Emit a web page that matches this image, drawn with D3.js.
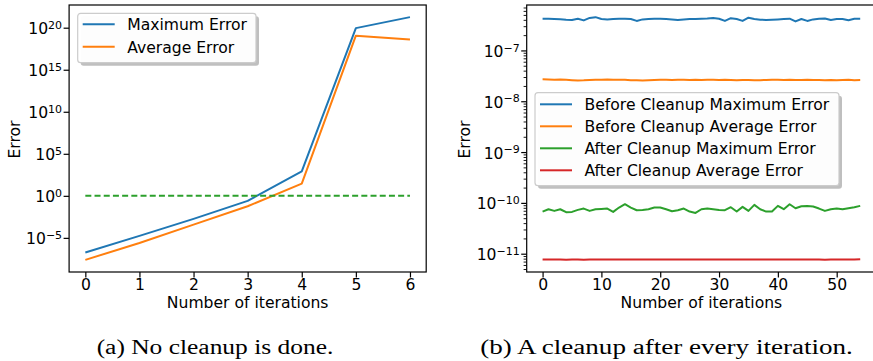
<!DOCTYPE html>
<html>
<head>
<meta charset="utf-8">
<script src="https://cdn.jsdelivr.net/npm/d3@7"></script>
<style>
body { margin: 0; background: #fff; }
svg { display: block; }
</style>
</head>
<body>
<svg id="fig" width="873" height="361"></svg>
<script>
// (a) no cleanup
const itersA = [0, 1, 2, 3, 4, 5, 6]
const maxErrA = [1.78e-7, 1.74e-5, 1.82e-3, 0.251, 794, 8.9e19, 1.82e21]
const avgErrA = [2.4e-8, 2.5e-6, 3.8e-4, 0.0575, 28.8, 1.12e19, 4.0e18]
const thresholdA = [1, 1, 1, 1, 1, 1, 1]
const xTicksA = [0, 1, 2, 3, 4, 5, 6]
const yExpA = [-5, 0, 5, 10, 15, 20]

// (b) cleanup after every iteration
const itersB = d3.range(0, 55)
const beforeMax = [4.21e-7, 4.21e-7, 4.17e-7, 4.11e-7, 4.02e-7, 3.98e-7, 4.21e-7, 3.90e-7, 4.36e-7, 4.52e-7,
  4.15e-7, 4.08e-7, 4.15e-7, 4.21e-7, 4.21e-7, 4.15e-7, 3.81e-7, 4.08e-7, 4.15e-7, 4.21e-7,
  4.21e-7, 4.15e-7, 4.08e-7, 3.98e-7, 4.08e-7, 4.15e-7, 4.15e-7, 4.21e-7, 4.26e-7, 4.36e-7,
  4.21e-7, 3.81e-7, 4.32e-7, 4.15e-7, 3.81e-7, 4.40e-7, 4.15e-7, 4.02e-7, 3.98e-7, 4.02e-7,
  4.08e-7, 4.15e-7, 4.21e-7, 3.72e-7, 4.15e-7, 3.81e-7, 4.08e-7, 4.21e-7, 4.26e-7, 3.97e-7,
  4.15e-7, 4.15e-7, 3.93e-7, 4.21e-7, 4.21e-7]
const beforeAvg = [2.70e-8, 2.68e-8, 2.66e-8, 2.68e-8, 2.64e-8, 2.60e-8, 2.57e-8, 2.58e-8, 2.62e-8, 2.64e-8,
  2.66e-8, 2.68e-8, 2.64e-8, 2.66e-8, 2.64e-8, 2.60e-8, 2.58e-8, 2.57e-8, 2.60e-8, 2.62e-8,
  2.64e-8, 2.64e-8, 2.62e-8, 2.64e-8, 2.64e-8, 2.62e-8, 2.64e-8, 2.62e-8, 2.64e-8, 2.64e-8,
  2.62e-8, 2.64e-8, 2.62e-8, 2.60e-8, 2.62e-8, 2.62e-8, 2.60e-8, 2.60e-8, 2.62e-8, 2.66e-8,
  2.64e-8, 2.62e-8, 2.64e-8, 2.62e-8, 2.62e-8, 2.64e-8, 2.62e-8, 2.62e-8, 2.60e-8, 2.62e-8,
  2.60e-8, 2.62e-8, 2.64e-8, 2.60e-8, 2.62e-8]
const afterMax = [6.75e-11, 7.50e-11, 6.96e-11, 7.50e-11, 6.55e-11, 6.65e-11, 7.28e-11, 7.73e-11, 6.96e-11, 7.50e-11,
  7.62e-11, 7.73e-11, 6.65e-11, 8.09e-11, 9.41e-11, 8.09e-11, 7.17e-11, 7.28e-11, 7.50e-11, 8.09e-11,
  8.09e-11, 7.50e-11, 6.86e-11, 7.17e-11, 7.73e-11, 6.75e-11, 6.35e-11, 7.50e-11, 7.73e-11, 7.50e-11,
  7.28e-11, 7.17e-11, 8.22e-11, 6.75e-11, 8.34e-11, 6.96e-11, 9.13e-11, 7.50e-11, 6.75e-11, 6.75e-11,
  8.73e-11, 7.50e-11, 9.41e-11, 7.85e-11, 8.60e-11, 8.73e-11, 8.47e-11, 7.73e-11, 6.96e-11, 7.50e-11,
  7.73e-11, 7.50e-11, 7.85e-11, 8.22e-11, 8.73e-11]
const afterAvg = [7.72e-12, 7.70e-12, 7.70e-12, 7.68e-12, 7.62e-12, 7.66e-12, 7.70e-12, 7.62e-12, 7.68e-12, 7.70e-12,
  7.70e-12, 7.70e-12, 7.68e-12, 7.70e-12, 7.70e-12, 7.70e-12, 7.66e-12, 7.68e-12, 7.70e-12, 7.70e-12,
  7.72e-12, 7.70e-12, 7.66e-12, 7.68e-12, 7.70e-12, 7.72e-12, 7.70e-12, 7.70e-12, 7.68e-12, 7.66e-12,
  7.70e-12, 7.70e-12, 7.68e-12, 7.70e-12, 7.70e-12, 7.70e-12, 7.68e-12, 7.70e-12, 7.70e-12, 7.70e-12,
  7.70e-12, 7.68e-12, 7.70e-12, 7.66e-12, 7.68e-12, 7.70e-12, 7.70e-12, 7.70e-12, 7.64e-12, 7.68e-12,
  7.70e-12, 7.70e-12, 7.70e-12, 7.70e-12, 7.80e-12]
const xTicksB = [0, 10, 20, 30, 40, 50]
const yExpB = [-11, -10, -9, -8, -7]

const blue = '#1f77b4', orange = '#ff7f0e', green = '#2ca02c', red = '#d62728'
const font = '"DejaVu Sans", sans-serif'
const fs = 15.6

const svg = d3.select('#fig')

function supLabel(sel, exp) {
    sel.append('tspan').text('10')
    sel.append('tspan')
        .attr('dy', -5.3)
        .attr('font-size', 11)
        .text(exp < 0 ? '\u2212' + (-exp) : '' + exp)
}

function panel(p) {
    const g = svg.append('g')
    const x = d3.scaleLinear().domain(p.xDomain).range([p.left, p.right])
    const y = d3.scaleLog().domain(p.yDomain).range([p.bottom, p.top])

    // minor log ticks
    if (p.minor) {
        const minors = []
        for (let k = -12; k <= -6; k++)
            for (let m = 2; m <= 9; m++) {
                const v = m * Math.pow(10, k)
                if (v > p.yDomain[0] && v < p.yDomain[1]) minors.push(v)
            }
        const mg = g.append('g')
            .attr('transform', `translate(${p.left},0)`)
            .call(d3.axisLeft(y).tickValues(minors).tickSize(3.1).tickFormat(''))
        mg.select('.domain').remove()
        mg.selectAll('.tick line').attr('stroke', '#000').attr('stroke-width', 0.9)
    }

    const ya = g.append('g')
        .attr('transform', `translate(${p.left},0)`)
        .call(d3.axisLeft(y).tickValues(p.yExp.map(e => Math.pow(10, e))).tickSize(5.5).tickFormat(''))
    ya.select('.domain').remove()
    ya.selectAll('.tick line').attr('stroke', '#000').attr('stroke-width', 1.2)
    ya.selectAll('.tick text').remove()
    ya.selectAll('.tick').each(function(d, i) {
        const t = d3.select(this).append('text')
            .attr('x', -7)
            .attr('y', 6)
            .attr('text-anchor', 'end')
            .attr('fill', '#000')
            .attr('font-family', font)
            .attr('font-size', fs)
        supLabel(t, p.yExp[i])
    })

    const xa = g.append('g')
        .attr('transform', `translate(0,${p.bottom})`)
        .call(d3.axisBottom(x).tickValues(p.xTicks).tickSize(5.5).tickFormat(d3.format('d')))
    xa.select('.domain').remove()
    xa.selectAll('.tick line').attr('stroke', '#000').attr('stroke-width', 1.2)
    xa.selectAll('.tick text')
        .attr('y', 18)
        .attr('dy', 0)
        .attr('fill', '#000')
        .attr('font-family', font)
        .attr('font-size', fs)

    // series
    const line = d3.line().x((d, i) => x(p.xs[i])).y(d => y(d))
    p.series.forEach(s => {
        g.append('path')
            .attr('d', line(s.values))
            .attr('fill', 'none')
            .attr('stroke', s.color)
            .attr('stroke-width', 2)
            .attr('stroke-dasharray', s.dash || null)
            .attr('stroke-linejoin', 'round')
    })

    // spines
    g.append('rect')
        .attr('x', p.left).attr('y', p.top)
        .attr('width', p.right - p.left).attr('height', p.bottom - p.top)
        .attr('fill', 'none').attr('stroke', '#000').attr('stroke-width', 1.2)

    // labels
    g.append('text')
        .attr('x', (p.left + p.right) / 2)
        .attr('y', 308)
        .attr('text-anchor', 'middle')
        .attr('font-family', font).attr('font-size', fs)
        .text('Number of iterations')
    g.append('text')
        .attr('transform', `translate(${p.ylabelX},${(p.top + p.bottom) / 2 + 1}) rotate(-90)`)
        .attr('text-anchor', 'middle')
        .attr('font-family', font).attr('font-size', fs)
        .text('Error')

    // legend
    const L = p.legend
    const lg = g.append('g')
    lg.append('rect')
        .attr('x', L.x + 3).attr('y', L.y + 3)
        .attr('width', L.w).attr('height', L.h)
        .attr('rx', 3)
        .attr('fill', '#7f7f7f').attr('opacity', 0.5)
    lg.append('rect')
        .attr('x', L.x).attr('y', L.y)
        .attr('width', L.w).attr('height', L.h)
        .attr('rx', 3)
        .attr('fill', '#fff').attr('fill-opacity', 0.96)
        .attr('stroke', '#cccccc').attr('stroke-width', 1.2)
    p.series.filter(s => s.label).forEach((s, i) => {
        const ry = L.y + L.first + i * L.step
        lg.append('line')
            .attr('x1', L.x + 5).attr('x2', L.x + 37)
            .attr('y1', ry).attr('y2', ry)
            .attr('stroke', s.color).attr('stroke-width', 2)
        lg.append('text')
            .attr('x', L.x + 49.5).attr('y', ry + 6)
            .attr('font-family', font).attr('font-size', fs)
            .text(s.label)
    })
}

panel({
    left: 69.1, right: 426.2, top: 5, bottom: 272,
    xDomain: [-0.3, 6.3],
    yDomain: [Math.pow(10, -9.06), Math.pow(10, 22.7)],
    xs: itersA, xTicks: xTicksA, yExp: yExpA, ylabelX: 20,
    series: [
        {values: maxErrA, color: blue, label: 'Maximum Error'},
        {values: avgErrA, color: orange, label: 'Average Error'},
        {values: thresholdA, color: green, dash: '6,3.2'}
    ],
    legend: {x: 77.7, y: 13.3, w: 178.3, h: 49.4, first: 11, step: 22.4}
})

panel({
    left: 526.7, right: 876.1, top: 5, bottom: 272,
    xDomain: [-2.7, 56.7],
    yDomain: [Math.pow(10, -11.36), Math.pow(10, -6.106)],
    xs: itersB, xTicks: xTicksB, yExp: yExpB, ylabelX: 470, minor: true,
    series: [
        {values: beforeMax, color: blue, label: 'Before Cleanup Maximum Error'},
        {values: beforeAvg, color: orange, label: 'Before Cleanup Average Error'},
        {values: afterMax, color: green, label: 'After Cleanup Maximum Error'},
        {values: afterAvg, color: red, label: 'After Cleanup Average Error'}
    ],
    legend: {x: 535, y: 92.7, w: 304, h: 93, first: 11.6, step: 22}
})

// captions
const captions = [
    {text: '(a) No cleanup is done.', cx: 215, w: 236.7},
    {text: '(b) A cleanup after every iteration.', cx: 666.5, w: 372.7}
]
captions.forEach(c => {
    svg.append('text')
        .attr('x', c.cx - c.w / 2)
        .attr('y', 354)
        .attr('font-family', '"Liberation Serif", serif')
        .attr('font-size', 20)
        .attr('textLength', c.w)
        .attr('lengthAdjust', 'spacingAndGlyphs')
        .text(c.text)
})
</script>
</body>
</html>
